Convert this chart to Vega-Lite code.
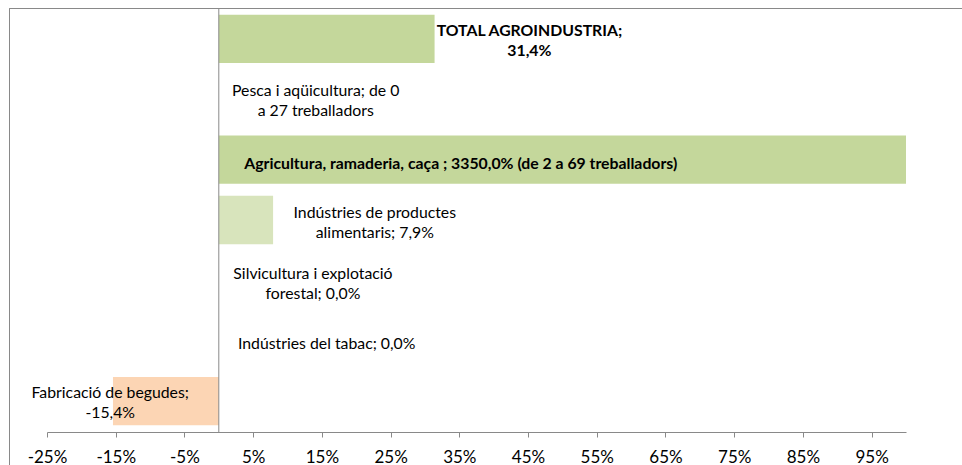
{
  "$schema": "https://vega.github.io/schema/vega-lite/v6.json",
  "width": 953,
  "height": 424,
  "autosize": "none",
  "padding": {"left": 9, "top": 8, "right": 0, "bottom": 33},
  "background": "white",
  "config": {"view": {"stroke": "#898989", "strokeWidth": 1, "strokeDash": [953, 1377, 424, 0]}, "axis": {"grid": false}, "font": "Lato"},
  "data": {
    "values": [
      {"cat": "TOTAL AGROINDUSTRIA", "value": 31.4, "label": ["TOTAL  AGROINDUSTRIA;", "31,4%"]},
      {"cat": "Pesca i aqüicultura", "value": null, "label": ["Pesca i aqüicultura;  de 0", "a 27 treballadors"]},
      {"cat": "Agricultura, ramaderia, caça", "value": 3350, "label": "Agricultura,  ramaderia,  caça ; 3350,0% (de 2 a 69 treballadors)"},
      {"cat": "Indústries de productes alimentaris", "value": 7.9, "label": ["Indústries  de productes", "alimentaris;  7,9%"]},
      {"cat": "Silvicultura i explotació forestal", "value": 0, "label": ["Silvicultura  i explotació", "forestal;  0,0%"]},
      {"cat": "Indústries del tabac", "value": 0, "label": "Indústries  del tabac;  0,0%"},
      {"cat": "Fabricació de begudes", "value": -15.4, "label": ["Fabricació  de begudes;", "-15,4%"]}
    ]
  },
  "encoding": {
    "y": {
      "field": "cat", "type": "nominal",
      "sort": ["TOTAL AGROINDUSTRIA", "Pesca i aqüicultura", "Agricultura, ramaderia, caça", "Indústries de productes alimentaris", "Silvicultura i explotació forestal", "Indústries del tabac", "Fabricació de begudes"],
      "scale": {"paddingInner": 0.2, "paddingOuter": 0.11},
      "axis": null
    }
  },
  "resolve": {"scale": {"x": "independent"}, "axis": {"x": "independent"}},
  "layer": [
    {
      "mark": {"type": "bar"},
      "encoding": {
        "x": {
          "field": "value", "type": "quantitative",
          "scale": {"domain": [-25, 100], "range": [38, 897], "clamp": true, "nice": false, "zero": false},
          "axis": {
            "orient": "bottom",
            "values": [-25, -15, -5, 5, 15, 25, 35, 45, 55, 65, 75, 85, 95],
            "labelExpr": "datum.value + '%'",
            "tickSize": 5, "tickColor": "#898989", "domainColor": "#898989",
            "labelFont": "Lato", "labelFontSize": 17, "labelColor": "#000000",
            "labelPadding": 12, "labelFlush": false, "labelOverlap": false, "title": null
          }
        },
        "color": {
          "field": "cat", "type": "nominal",
          "scale": {
            "domain": ["TOTAL AGROINDUSTRIA", "Pesca i aqüicultura", "Agricultura, ramaderia, caça", "Indústries de productes alimentaris", "Silvicultura i explotació forestal", "Indústries del tabac", "Fabricació de begudes"],
            "range": ["#c4d79b", "#c4d79b", "#c4d79b", "#d8e4bc", "#d8e4bc", "#d8e4bc", "#fcd5b4"]
          },
          "legend": null
        }
      }
    },
    {
      "transform": [{"filter": "datum.cat === 'TOTAL AGROINDUSTRIA'"}],
      "mark": {"type": "text", "font": "Lato", "fontSize": 15.8, "fontWeight": "bold", "lineHeight": 20, "baseline": "middle", "align": "center", "color": "#000000", "dy": -8},
      "encoding": {"x": {"datum": 45.2, "type": "quantitative", "scale": {"domain": [-25, 100], "range": [38, 897], "nice": false, "zero": false}, "axis": null}, "text": {"field": "label"}}
    },
    {
      "transform": [{"filter": "datum.cat === 'Pesca i aqüicultura'"}],
      "mark": {"type": "text", "font": "Lato", "fontSize": 15.8, "lineHeight": 20, "baseline": "middle", "align": "center", "color": "#000000", "dy": -8},
      "encoding": {"x": {"datum": 14.1, "type": "quantitative", "scale": {"domain": [-25, 100], "range": [38, 897], "nice": false, "zero": false}, "axis": null}, "text": {"field": "label"}}
    },
    {
      "transform": [{"filter": "datum.cat === 'Agricultura, ramaderia, caça'"}],
      "mark": {"type": "text", "font": "Lato", "fontSize": 15.8, "fontWeight": "bold", "lineHeight": 20, "baseline": "middle", "align": "center", "color": "#000000", "dy": 4},
      "encoding": {"x": {"datum": 35.2, "type": "quantitative", "scale": {"domain": [-25, 100], "range": [38, 897], "nice": false, "zero": false}, "axis": null}, "text": {"field": "label"}}
    },
    {
      "transform": [{"filter": "datum.cat === 'Indústries de productes alimentaris'"}],
      "mark": {"type": "text", "font": "Lato", "fontSize": 15.8, "lineHeight": 20, "baseline": "middle", "align": "center", "color": "#000000", "dy": -7},
      "encoding": {"x": {"datum": 22.7, "type": "quantitative", "scale": {"domain": [-25, 100], "range": [38, 897], "nice": false, "zero": false}, "axis": null}, "text": {"field": "label"}}
    },
    {
      "transform": [{"filter": "datum.cat === 'Silvicultura i explotació forestal'"}],
      "mark": {"type": "text", "font": "Lato", "fontSize": 15.8, "lineHeight": 20, "baseline": "middle", "align": "center", "color": "#000000", "dy": -6},
      "encoding": {"x": {"datum": 13.7, "type": "quantitative", "scale": {"domain": [-25, 100], "range": [38, 897], "nice": false, "zero": false}, "axis": null}, "text": {"field": "label"}}
    },
    {
      "transform": [{"filter": "datum.cat === 'Indústries del tabac'"}],
      "mark": {"type": "text", "font": "Lato", "fontSize": 15.8, "lineHeight": 20, "baseline": "middle", "align": "center", "color": "#000000", "dy": 3},
      "encoding": {"x": {"datum": 15.7, "type": "quantitative", "scale": {"domain": [-25, 100], "range": [38, 897], "nice": false, "zero": false}, "axis": null}, "text": {"field": "label"}}
    },
    {
      "transform": [{"filter": "datum.cat === 'Fabricació de begudes'"}],
      "mark": {"type": "text", "font": "Lato", "fontSize": 15.8, "lineHeight": 20, "baseline": "middle", "align": "center", "color": "#000000", "dy": -8},
      "encoding": {"x": {"datum": -15.8, "type": "quantitative", "scale": {"domain": [-25, 100], "range": [38, 897], "nice": false, "zero": false}, "axis": null}, "text": {"field": "label"}}
    },
    {
      "data": {"values": [{"zero": 0}]},
      "mark": {"type": "rule", "color": "#898989"},
      "encoding": {
        "y": null,
        "x": {
          "field": "zero", "type": "quantitative",
          "scale": {"domain": [-30.53, 108.15], "nice": false, "zero": false},
          "axis": {
            "orient": "top", "values": [-30.53], "labelOpacity": 0,
            "tickSize": -457, "tickColor": "#898989", "domainColor": "#898989", "title": null
          }
        }
      }
    }
  ]
}
